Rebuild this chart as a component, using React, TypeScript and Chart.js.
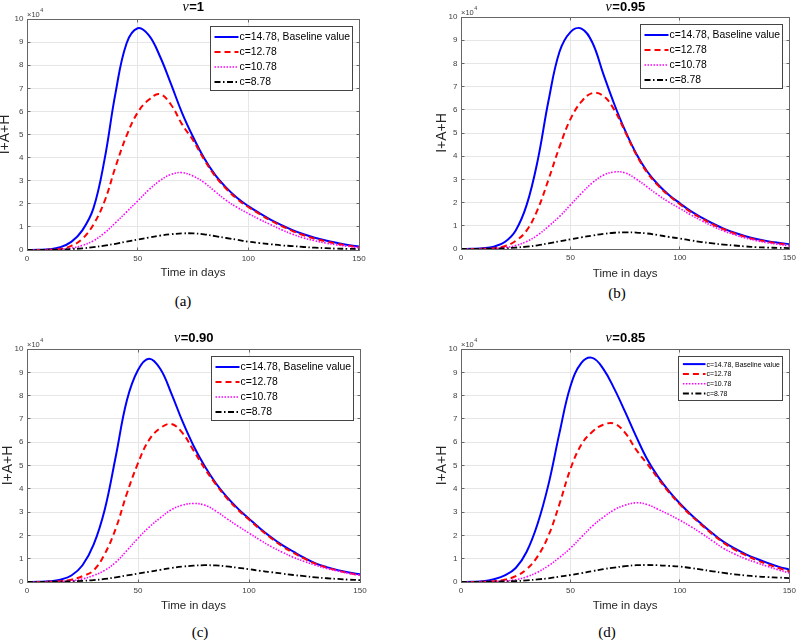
import React, { useEffect, useRef } from "react";
import { Chart, registerables } from "chart.js";

Chart.register(...registerables);

// ---------- data (values in units of 10^4) ----------
const days = [0, 5, 10, 15, 20, 25, 30, 35, 40, 45, 50, 55, 60, 65, 70, 75, 80, 85, 90, 95, 100, 105, 110, 115, 120, 125, 130, 135, 140, 145, 150];
const seriesLabels = ["c=14.78, Baseline value", "c=12.78", "c=10.78", "c=8.78"];
const nuValues = ["1", "0.95", "0.90", "0.85"];
const captions = ["(a)", "(b)", "(c)", "(d)"];
const yAxisLabel = "I+A+H";
const xAxisLabel = "Time in days";

// nu = 1
const nu100_c1478 = [0, 0.01, 0.03, 0.12, 0.35, 0.85, 1.8, 3.9, 6.8, 8.95, 9.6, 9.3, 8.4, 7.2, 5.95, 4.9, 3.98, 3.25, 2.7, 2.25, 1.9, 1.6, 1.32, 1.08, 0.86, 0.68, 0.53, 0.41, 0.31, 0.22, 0.15];
const nu100_c1278 = [0, 0, 0.01, 0.04, 0.18, 0.48, 1.1, 2.1, 3.6, 4.95, 5.95, 6.5, 6.75, 6.3, 5.45, 4.75, 3.92, 3.2, 2.65, 2.2, 1.86, 1.56, 1.28, 1.04, 0.82, 0.64, 0.49, 0.37, 0.27, 0.19, 0.12];
const nu100_c1078 = [0, 0, 0.01, 0.03, 0.08, 0.2, 0.4, 0.74, 1.18, 1.65, 2.12, 2.6, 3.0, 3.27, 3.35, 3.2, 2.92, 2.53, 2.15, 1.84, 1.58, 1.33, 1.1, 0.88, 0.68, 0.52, 0.4, 0.3, 0.22, 0.16, 0.1];
const nu100_c878 = [0, 0, 0.01, 0.02, 0.04, 0.07, 0.12, 0.19, 0.27, 0.36, 0.45, 0.54, 0.62, 0.68, 0.72, 0.72, 0.68, 0.6, 0.52, 0.44, 0.36, 0.3, 0.25, 0.2, 0.17, 0.13, 0.1, 0.08, 0.06, 0.05, 0.04];

// nu = 0.95
const nu095_c1478 = [0, 0.01, 0.03, 0.1, 0.3, 0.8, 1.9, 3.8, 6.4, 8.5, 9.35, 9.5, 8.9, 7.55, 6.25, 5.1, 4.12, 3.35, 2.78, 2.33, 1.97, 1.63, 1.35, 1.1, 0.88, 0.7, 0.55, 0.43, 0.34, 0.27, 0.21];
const nu095_c1278 = [0, 0, 0.01, 0.03, 0.12, 0.35, 0.8, 1.7, 3.0, 4.4, 5.6, 6.35, 6.72, 6.6, 6.0, 5.05, 4.08, 3.3, 2.74, 2.3, 1.93, 1.59, 1.31, 1.06, 0.85, 0.67, 0.52, 0.4, 0.31, 0.24, 0.18];
const nu095_c1078 = [0, 0, 0.01, 0.02, 0.06, 0.15, 0.32, 0.6, 0.98, 1.4, 1.9, 2.4, 2.85, 3.18, 3.32, 3.28, 3.02, 2.68, 2.33, 2.02, 1.75, 1.47, 1.22, 0.98, 0.78, 0.61, 0.47, 0.36, 0.27, 0.2, 0.13];
const nu095_c878 = [0, 0, 0.01, 0.02, 0.03, 0.06, 0.1, 0.16, 0.24, 0.33, 0.42, 0.5, 0.58, 0.65, 0.7, 0.72, 0.71, 0.67, 0.6, 0.52, 0.45, 0.37, 0.3, 0.24, 0.19, 0.15, 0.11, 0.08, 0.06, 0.05, 0.04];

// nu = 0.90
const nu090_c1478 = [0, 0.01, 0.03, 0.1, 0.28, 0.72, 1.6, 3.1, 5.4, 7.8, 9.1, 9.58, 9.15, 8.1, 6.9, 5.85, 4.98, 4.25, 3.65, 3.15, 2.72, 2.3, 1.92, 1.58, 1.3, 1.03, 0.8, 0.64, 0.51, 0.41, 0.33];
const nu090_c1278 = [0, 0, 0.01, 0.03, 0.1, 0.25, 0.5, 1.2, 2.3, 3.8, 5.1, 6.1, 6.6, 6.78, 6.4, 5.65, 4.88, 4.2, 3.6, 3.1, 2.68, 2.26, 1.88, 1.53, 1.25, 1.0, 0.78, 0.62, 0.49, 0.38, 0.29];
const nu090_c1078 = [0, 0, 0.01, 0.02, 0.05, 0.13, 0.28, 0.5, 0.85, 1.35, 1.88, 2.35, 2.75, 3.1, 3.3, 3.37, 3.3, 3.05, 2.72, 2.4, 2.1, 1.8, 1.52, 1.28, 1.06, 0.88, 0.72, 0.58, 0.47, 0.37, 0.29];
const nu090_c878 = [0, 0, 0.01, 0.02, 0.03, 0.05, 0.08, 0.13, 0.2, 0.28, 0.36, 0.44, 0.52, 0.6, 0.66, 0.7, 0.72, 0.71, 0.67, 0.61, 0.55, 0.48, 0.42, 0.36, 0.3, 0.25, 0.2, 0.16, 0.13, 0.1, 0.08];

// nu = 0.85
const nu085_c1478 = [0, 0.01, 0.03, 0.12, 0.28, 0.6, 1.3, 2.5, 4.2, 6.4, 8.4, 9.4, 9.62, 9.15, 8.3, 7.3, 6.25, 5.28, 4.52, 3.9, 3.37, 2.9, 2.48, 2.08, 1.72, 1.44, 1.2, 1.0, 0.82, 0.66, 0.53];
const nu085_c1278 = [0, 0, 0.01, 0.03, 0.1, 0.25, 0.55, 1.1, 2.0, 3.35, 4.85, 5.9, 6.45, 6.75, 6.8, 6.4, 5.68, 5.08, 4.45, 3.85, 3.33, 2.86, 2.44, 2.04, 1.68, 1.39, 1.15, 0.94, 0.76, 0.6, 0.46];
const nu085_c1078 = [0, 0, 0.01, 0.02, 0.04, 0.1, 0.22, 0.42, 0.7, 1.05, 1.45, 1.93, 2.4, 2.78, 3.1, 3.3, 3.4, 3.33, 3.12, 2.9, 2.65, 2.38, 2.08, 1.76, 1.44, 1.2, 1.0, 0.83, 0.67, 0.52, 0.39];
const nu085_c878 = [0, 0, 0.01, 0.02, 0.03, 0.04, 0.07, 0.11, 0.16, 0.23, 0.3, 0.38, 0.47, 0.55, 0.62, 0.68, 0.72, 0.73, 0.72, 0.69, 0.66, 0.6, 0.53, 0.46, 0.39, 0.33, 0.28, 0.24, 0.21, 0.19, 0.17];

// ---------- styles ----------
const seriesColors = ["#0000ff", "#ff0000", "#ff00ff", "#000000"];
const seriesWidths = [2, 2, 1.6, 1.8];
const seriesDashes: number[][] = [[], [6, 4], [1.5, 1.5], [6, 2.5, 1.5, 2.5]];

const bigLegend = { width: 142, height: 64, firstRow: 10.5, rowH: 15, sx0: 4, sx1: 28, tx: 29, font: 10.4 };
const smallLegend = { width: 104, height: 44, firstRow: 7.6, rowH: 9.8, sx0: 4.4, sx1: 27, tx: 28, font: 6.9 };

const panels = [
  { series: [nu100_c1478, nu100_c1278, nu100_c1078, nu100_c878], nu: nuValues[0], caption: captions[0],
    canvas: { left: 0, top: 0, w: 400, h: 280 }, pad: { left: 0, top: 19, right: 41, bottom: 0 }, yW: 27, xH: 30,
    titleY: 7, legend: bigLegend, cap: { x: 183, y: 301 } },
  { series: [nu095_c1478, nu095_c1278, nu095_c1078, nu095_c878], nu: nuValues[1], caption: captions[1],
    canvas: { left: 400, top: 0, w: 400, h: 281 }, pad: { left: 37, top: 17, right: 6, bottom: 0 }, yW: 24, xH: 32,
    titleY: 7, legend: bigLegend, cap: { x: 617, y: 293 } },
  { series: [nu090_c1478, nu090_c1278, nu090_c1078, nu090_c878], nu: nuValues[2], caption: captions[2],
    canvas: { left: 0, top: 320, w: 400, h: 293 }, pad: { left: 3, top: 29, right: 40, bottom: 0 }, yW: 24, xH: 31,
    titleY: 18, legend: bigLegend, cap: { x: 200, y: 632 } },
  { series: [nu085_c1478, nu085_c1278, nu085_c1078, nu085_c878], nu: nuValues[3], caption: captions[3],
    canvas: { left: 400, top: 320, w: 400, h: 293 }, pad: { left: 37, top: 29, right: 6, bottom: 0 }, yW: 24, xH: 31,
    titleY: 18, legend: smallLegend, cap: { x: 607, y: 632 } },
];

const align = (p: number) => Math.round(p - 0.5) + 0.5;

const decorPlugin = {
  id: "decor",
  afterDraw(chart: any, _args: any, opts: any) {
    const { ctx, chartArea } = chart;
    const { left, right, top, bottom } = chartArea;
    const xs = chart.scales.x;
    const ys = chart.scales.y;
    ctx.save();
    ctx.setLineDash([]);
    // axes box
    const L = align(left), R = align(right), T = align(top), B = align(bottom);
    ctx.strokeStyle = "#666666";
    ctx.lineWidth = 1;
    ctx.strokeRect(L, T, R - L, B - T);
    // inward ticks
    ctx.beginPath();
    xs.ticks.forEach((t: any) => {
      const p = align(xs.getPixelForValue(t.value));
      ctx.moveTo(p, B); ctx.lineTo(p, B - 3);
      ctx.moveTo(p, T); ctx.lineTo(p, T + 3);
    });
    ys.ticks.forEach((t: any) => {
      const p = align(ys.getPixelForValue(t.value));
      ctx.moveTo(L, p); ctx.lineTo(L + 3, p);
      ctx.moveTo(R, p); ctx.lineTo(R - 3, p);
    });
    ctx.stroke();

    // exponent label
    ctx.fillStyle = "#404040";
    ctx.textAlign = "left";
    ctx.textBaseline = "alphabetic";
    ctx.font = '7.5px "Liberation Sans"';
    ctx.fillText("\u00d710", left, top - 2.5);
    const we = ctx.measureText("\u00d710").width;
    ctx.font = '5.5px "Liberation Sans"';
    ctx.fillText("4", left + we + 0.5, top - 7);

    // title
    const s = 13;
    const f1 = `italic ${s + 1}px "Liberation Serif"`;
    const f2 = `bold ${s}px "Liberation Sans"`;
    const t1 = "\u03bd";
    const t2 = "=" + opts.nu;
    ctx.font = f1; const w1 = ctx.measureText(t1).width;
    ctx.font = f2; const w2 = ctx.measureText(t2).width;
    const x0 = (left + right) / 2 - (w1 + w2) / 2;
    ctx.fillStyle = "#000";
    ctx.textBaseline = "middle";
    ctx.font = f1; ctx.fillText(t1, x0, opts.titleY);
    ctx.font = f2; ctx.fillText(t2, x0 + w1 + 0.5, opts.titleY);

    // legend
    const lg = opts.legend;
    const bx = Math.round(right - 7 - lg.width) + 0.5;
    const by = Math.round(top + 7) + 0.5;
    ctx.fillStyle = "#ffffff";
    ctx.fillRect(bx, by, lg.width, lg.height);
    ctx.strokeStyle = "#444444";
    ctx.lineWidth = 1;
    ctx.strokeRect(bx, by, lg.width, lg.height);
    chart.data.datasets.forEach((ds: any, i: number) => {
      const y = by + lg.firstRow + i * lg.rowH;
      ctx.setLineDash(ds.borderDash || []);
      ctx.strokeStyle = ds.borderColor;
      ctx.lineWidth = ds.borderWidth;
      ctx.beginPath();
      ctx.moveTo(bx + lg.sx0, y);
      ctx.lineTo(bx + lg.sx1, y);
      ctx.stroke();
      ctx.setLineDash([]);
      ctx.fillStyle = "#000";
      ctx.font = `${lg.font}px "Liberation Sans"`;
      ctx.textBaseline = "middle";
      ctx.textAlign = "left";
      ctx.fillText(ds.label, bx + lg.tx, y + 0.5);
    });
    ctx.restore();
  },
};

function Panel({ spec }: { spec: any }) {
  const ref = useRef<HTMLCanvasElement>(null);
  useEffect(() => {
    const chart = new Chart(ref.current as HTMLCanvasElement, {
      type: "line",
      data: {
        datasets: spec.series.map((vals: number[], i: number) => ({
          label: seriesLabels[i],
          data: days.map((d, j) => ({ x: d, y: vals[j] })),
          borderColor: seriesColors[i],
          borderWidth: seriesWidths[i],
          borderDash: seriesDashes[i],
          pointRadius: 0,
          tension: 0.4,
          fill: false,
          order: 3 - i,
        })),
      },
      options: {
        animation: false,
        responsive: false,
        maintainAspectRatio: false,
        layout: { padding: spec.pad },
        plugins: {
          legend: { display: false },
          tooltip: { enabled: false },
          decor: { nu: spec.nu, titleY: spec.titleY, legend: spec.legend },
        } as any,
        scales: {
          x: {
            type: "linear",
            min: 0,
            max: 150,
            ticks: { stepSize: 50, maxRotation: 0, padding: 4, color: "#404040", font: { family: "Liberation Sans", size: 8 } },
            grid: { color: "#e6e6e6", drawTicks: false, lineWidth: 1 },
            border: { display: false },
            title: { display: true, text: xAxisLabel, color: "#262626", padding: 0, font: { family: "Liberation Sans", size: 11.5, lineHeight: 1.2 } },
            afterFit: (scale: any) => { scale.height = spec.xH; },
          },
          y: {
            type: "linear",
            min: 0,
            max: 10,
            ticks: { stepSize: 1, padding: 3.5, color: "#404040", font: { family: "Liberation Sans", size: 8 } },
            grid: { color: "#e6e6e6", drawTicks: false, lineWidth: 1 },
            border: { display: false },
            title: { display: true, text: yAxisLabel, color: "#262626", padding: 0, font: { family: "Liberation Sans", size: 14, lineHeight: 0.7 } },
            afterFit: (scale: any) => { scale.width = spec.yW; },
          },
        },
      } as any,
      plugins: [decorPlugin as any],
    });
    return () => chart.destroy();
  }, [spec]);
  return (
    <canvas
      ref={ref}
      width={spec.canvas.w}
      height={spec.canvas.h}
      style={{ position: "absolute", left: spec.canvas.left, top: spec.canvas.top, width: spec.canvas.w, height: spec.canvas.h }}
    />
  );
}

export default function App() {
  return (
    <div style={{ position: "absolute", left: 0, top: 0, width: 800, height: 640, background: "#fff", overflow: "hidden" }}>
      {panels.map((p, i) => (
        <React.Fragment key={i}>
          <Panel spec={p} />
          <div
            style={{
              position: "absolute",
              left: p.cap.x - 30,
              top: p.cap.y - 9,
              width: 60,
              textAlign: "center",
              fontFamily: '"Liberation Serif", serif',
              fontSize: 15,
              lineHeight: "18px",
              color: "#000",
            }}
          >
            {p.caption}
          </div>
        </React.Fragment>
      ))}
    </div>
  );
}
